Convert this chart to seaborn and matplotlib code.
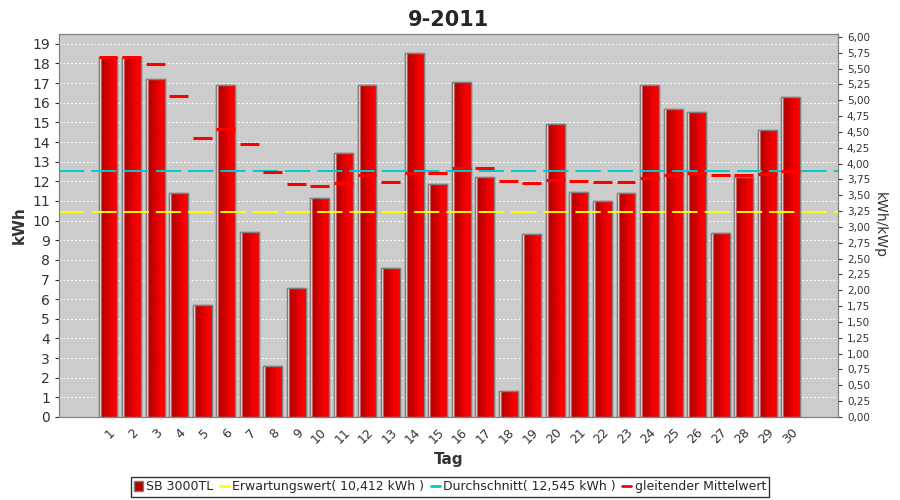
import matplotlib
matplotlib.use("Agg")
import matplotlib.pyplot as plt
from matplotlib.colors import LinearSegmentedColormap
from matplotlib.lines import Line2D
from matplotlib.patches import Patch
import numpy as np
import pandas as pd
import seaborn as sns

# Tageswerte September 2011 (kWh)
days = [str(d) for d in range(1, 31)]
kwh = [18.34, 18.34, 17.22, 11.41, 5.71, 16.91, 9.42, 2.60, 6.57, 11.16,
       13.45, 16.91, 7.59, 18.54, 11.87, 17.07, 12.23, 1.32, 9.32, 14.93,
       11.46, 11.00, 11.41, 16.91, 15.69, 15.54, 9.37, 12.23, 14.62, 16.30]
# gleitender Mittelwert (kWh)
running_mean = [18.34, 18.34, 17.97, 16.33, 14.20, 14.66, 13.91, 12.49, 11.84, 11.77,
                11.92, 12.34, 11.97, 12.44, 12.40, 12.69, 12.67, 12.04, 11.89, 12.05,
                12.02, 11.97, 11.95, 12.15, 12.30, 12.42, 12.31, 12.30, 12.38, 12.51]
expected = 10.412
average = 12.545
kwp = 3.225

df = pd.DataFrame({"Tag": days, "kWh": kwh})

sns.set_style("white")
plt.rcParams["font.family"] = ["DejaVu Sans"]

fig, ax = plt.subplots(figsize=(9, 5), dpi=100)
fig.subplots_adjust(left=0.0656, right=0.931, top=0.932, bottom=0.166)
ax.set_facecolor("#cccccc")

sns.barplot(data=df, x="Tag", y="kWh", color="#e00000", width=0.8,
            edgecolor="#808080", linewidth=1, ax=ax, zorder=2)

# Farbverlauf auf den Balken
cmap = LinearSegmentedColormap.from_list(
    "bar", [(0.0, "#ffffff"), (0.08, "#ffffff"), (0.14, "#b00000"),
            (0.85, "#ff0000"), (1.0, "#e80000")])
grad = np.linspace(0, 1, 64).reshape(1, -1)
for p in ax.patches:
    x0, w, h = p.get_x(), p.get_width(), p.get_height()
    im = ax.imshow(grad, extent=[x0, x0 + w, 0, h], aspect="auto",
                   cmap=cmap, zorder=2.1, interpolation="bicubic")
    im.set_clip_path(p)
    ax.add_patch(plt.Rectangle((x0, 0), w, h, fill=False,
                               edgecolor="#808080", linewidth=1, zorder=2.2))

xs = np.arange(len(days))
ax.axhline(expected, color="#ffff00", linewidth=1.4, dashes=(13, 3.6), zorder=3)
ax.axhline(average, color="#00cccc", linewidth=1.4, dashes=(13, 3.6), zorder=3)
ax.hlines(running_mean, xs - 0.4, xs + 0.4, color="#ff0000", linewidth=2.2, zorder=4)

ax.set_xlim(-2.08, 31.0)
ax.set_ylim(0, 19.5)
ax.set_yticks(range(0, 20))
ax.yaxis.grid(True, color="white", linestyle=(0, (2, 2)), linewidth=0.7)
ax.set_axisbelow(True)
ax.tick_params(axis="y", labelsize=10, colors="#333333", length=3)
ax.tick_params(axis="x", labelsize=9, colors="#333333", length=3)
plt.setp(ax.get_xticklabels(), rotation=45, ha="right", rotation_mode="anchor")
ax.set_xlabel("Tag", fontsize=11, fontweight="bold", color="#333333", labelpad=4)
ax.set_ylabel("kWh", fontsize=11, fontweight="bold", color="#333333")
ax.set_title("9-2011", fontsize=15, fontweight="bold", pad=6)
for s in ax.spines.values():
    s.set_color("#808080")

# rechte Achse kWh/kWp
ax2 = ax.twinx()
ax2.set_ylim(0, 19.5 / kwp)
ticks = np.arange(0, 6.01, 0.25)
ax2.set_yticks(ticks)
ax2.set_yticklabels([f"{t:.2f}".replace(".", ",") for t in ticks])
ax2.tick_params(axis="y", labelsize=7.5, colors="#333333", length=3)
ax2.set_ylabel("kWh/kWp", fontsize=10, rotation=270, labelpad=12, color="#333333")
for s in ax2.spines.values():
    s.set_color("#808080")

handles = [
    Patch(facecolor="#b00000", edgecolor="#808080"),
    Line2D([], [], color="#ffff00", linewidth=2),
    Line2D([], [], color="#00cccc", linewidth=2),
    Line2D([], [], color="#ff0000", linewidth=2),
]
labels = ["SB 3000TL", "Erwartungswert( 10,412 kWh )",
          "Durchschnitt( 12,545 kWh )", "gleitender Mittelwert"]
leg = fig.legend(handles, labels, loc="lower center", bbox_to_anchor=(0.5, 0.002),
                 ncol=4, fontsize=9, frameon=True, fancybox=False,
                 handlelength=0.7, handleheight=0.9, handletextpad=0.3,
                 columnspacing=0.5, borderpad=0.25, borderaxespad=0.2)
leg.get_frame().set_edgecolor("black")
leg.get_frame().set_linewidth(1)

fig.savefig("out.png", dpi=100)
